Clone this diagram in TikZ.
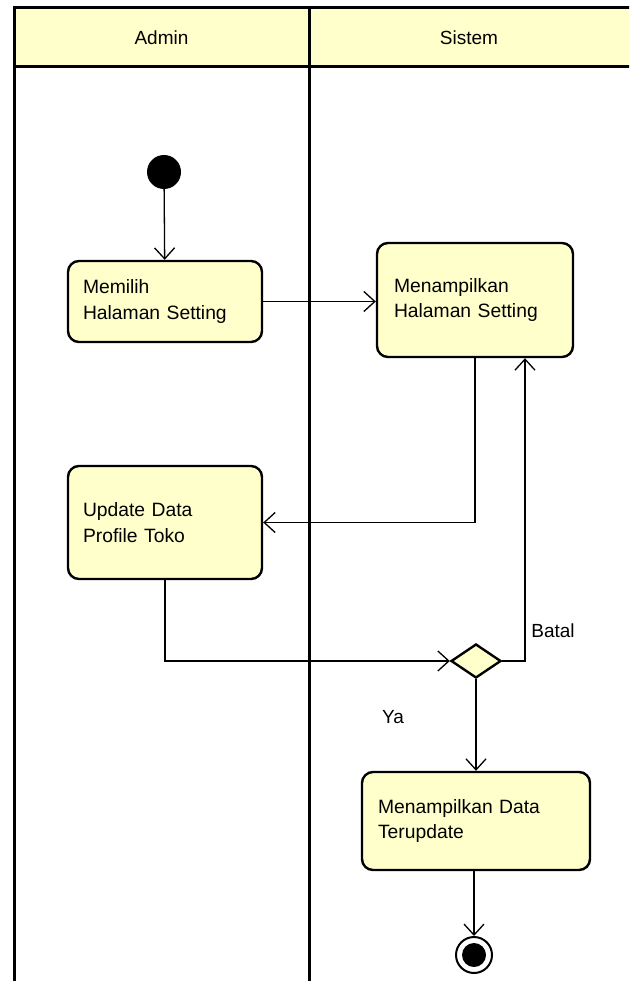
\documentclass[tikz,border=0pt]{standalone}
\usepackage{fontspec}
\setmainfont{Liberation Sans}
\usetikzlibrary{arrows.meta,shapes.geometric}
\definecolor{umlfill}{RGB}{255,255,204}
\tikzset{
  lane/.style={line width=3pt, draw=black},
  header/.style={lane, fill=umlfill},
  action/.style={draw=black, line width=2.4pt, fill=umlfill, rounded corners=11pt,
    align=left, inner xsep=15pt, inner ysep=0pt, font=\fontsize{19.3}{25.5}\selectfont},
  flow/.style={line width=1.3pt, -{Straight Barb[length=11pt,width=20pt,line width=1.3pt]}},
  plain/.style={line width=1.3pt},
  decision/.style={diamond, draw=black, line width=2.4pt, fill=umlfill, inner sep=0pt,
    minimum width=50pt, minimum height=34pt},
  lbl/.style={font=\fontsize{19}{22}\selectfont, inner sep=0pt},
}
\begin{document}
\begin{tikzpicture}[x=1pt, y=-1pt]
  \useasboundingbox (0,0) rectangle (629,981);
  \clip (0,0) rectangle (629,981);

  % swimlanes
  \draw[header] (14,8) rectangle (309,67);
  \draw[header] (309,8) rectangle (640,67);
  \draw[lane] (14,67) -- (14,990);
  \draw[lane] (309,67) -- (309,990);
  \node[lbl] (laneA) at (161.5,38) {Admin};
  \node[lbl] (laneS) at (469,38) {Sistem};

  % nodes
  \node[circle, fill=black, minimum size=34pt, inner sep=0pt] (start) at (164,172) {};
  \node[action, text width=164pt, minimum height=81pt] (pilih) at (165,301.5)
    {Memilih\\Halaman Setting};
  \node[action, inner xsep=17pt, text width=162pt, minimum height=114pt] (tampil) at (475,300)
    {Menampilkan\\Halaman Setting};
  \node[action, text width=164pt, minimum height=113pt] (update) at (165,522.5)
    {Update Data\\Profile Toko};
  \node[decision] (cek) at (476,661) {};
  \node[action, inner xsep=16pt, text width=196pt, minimum height=98pt] (hasil) at (476,821)
    {Menampilkan Data\\Terupdate};
  \node[circle, draw=black, line width=2pt, fill=white, minimum size=36pt, inner sep=0pt] (end) at (474,955) {};
  \node[circle, fill=black, minimum size=24pt, inner sep=0pt] (endin) at (end.center) {};
  \coordinate (retx) at (525,0);

  % flows
  \draw[flow] (start) -- (pilih);
  \draw[flow] (pilih.east) -- (pilih.east -| tampil.west);
  \draw[flow] (tampil.south) |- (update.east);
  \draw[flow] (update.south) |- (cek.west);
  \draw[flow] (cek.east) -| (retx |- tampil.south);
  \draw[flow] (cek.south) -- (hasil.north -| cek.south);
  \draw[flow] (hasil.south -| end.north) -- (end.north);

  % guards
  \node[lbl] (batal) at (553,631) {Batal};
  \node[lbl] (ya) at (393,717) {Ya};
\end{tikzpicture}
\end{document}
